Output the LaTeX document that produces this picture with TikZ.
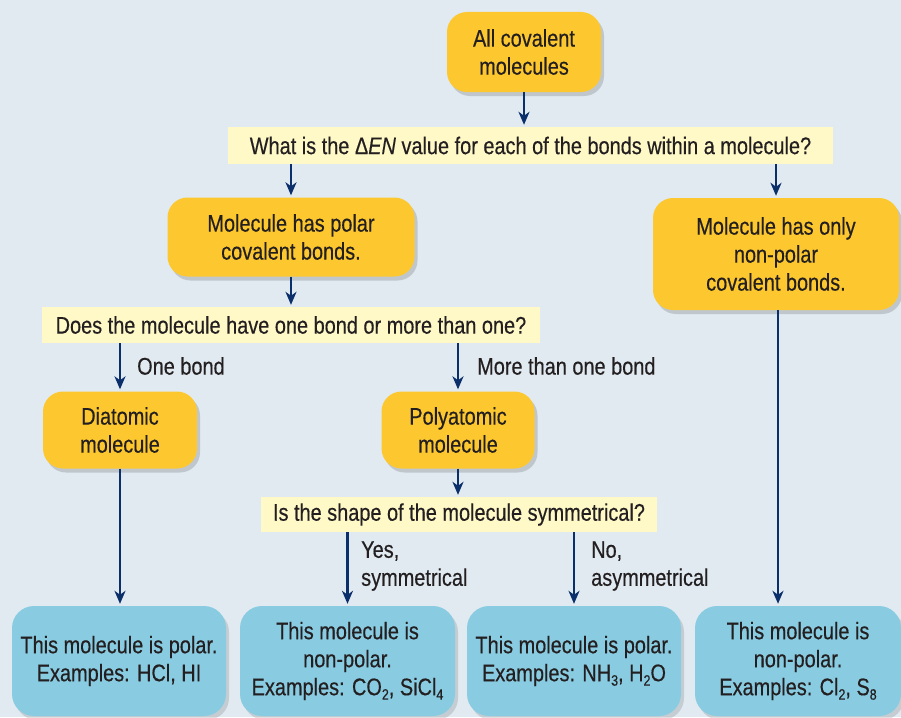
\documentclass[tikz,border=0pt]{standalone}
\usepackage{fontspec}
\setmainfont{Liberation Sans}[FakeStretch=0.83,FakeBold=0.4]
\usetikzlibrary{arrows.meta,shadows}
\definecolor{bgcol}{RGB}{225,234,241}
\definecolor{orangecol}{RGB}{253,200,47}
\definecolor{qbarcol}{RGB}{255,249,200}
\definecolor{bluecol}{RGB}{137,204,226}
\definecolor{navy}{RGB}{10,47,107}
\definecolor{txtcol}{RGB}{35,31,32}
\newcommand{\lowsub}[1]{\raisebox{-0.35ex}{\fontsize{15}{15}\selectfont #1}}
\begin{document}
\begin{tikzpicture}[x=1pt,y=-1pt,
  font=\fontsize{24}{28}\selectfont, text=txtcol,
  obox/.style={fill=orangecol, rounded corners=20pt, align=center, inner sep=0pt,
    drop shadow={shadow xshift=3pt, shadow yshift=-4pt, fill=black, opacity=0.15}},
  bbox/.style={fill=bluecol, rounded corners=22pt, align=center, inner sep=0pt,
    drop shadow={shadow xshift=3pt, shadow yshift=-4pt, fill=black, opacity=0.12}},
  qbox/.style={fill=qbarcol, inner sep=0pt},
  arr/.style={draw=navy, line width=2.2pt, -{Stealth[length=13pt,width=11pt,inset=4pt]}, shorten >=2pt},
  lbl/.style={anchor=west, align=left, inner sep=0pt}]
\fill[bgcol] (0,0) rectangle (901,717);
\useasboundingbox (0,0) rectangle (901,717);
\begin{scope}
\clip (0,0) rectangle (901,717);
% orange boxes
\node[obox, minimum width=154pt, minimum height=80pt] (all) at (524,52) {All covalent\\molecules};
\node[obox, minimum width=247pt, minimum height=79pt] (polar) at (291,237) {Molecule has polar\\covalent bonds.};
\node[obox, minimum width=246pt, minimum height=112pt] (nonpolar) at (776,254) {Molecule has only\\non-polar\\covalent bonds.};
\node[obox, minimum width=154pt, minimum height=77pt] (dia) at (120,430) {Diatomic\\molecule};
\node[obox, minimum width=153pt, minimum height=77pt] (poly) at (458,430) {Polyatomic\\molecule};
% question bars
\node[qbox, minimum width=605pt, minimum height=37pt] (q1) at (530.5,145.5) {What is the Δ\textit{EN} value for each of the bonds within a molecule?};
\node[qbox, minimum width=498pt, minimum height=36pt] (q2) at (291,325) {Does the molecule have one bond or more than one?};
\node[qbox, minimum width=396pt, minimum height=35pt] (q3) at (459,514.5) {Is the shape of the molecule symmetrical?};
% blue boxes
\node[bbox, minimum width=214pt, minimum height=110pt] (b1) at (119,661) {This molecule is polar.\\Examples: HCl, HI};
\node[bbox, minimum width=215pt, minimum height=110pt] (b2) at (347.5,661) {This molecule is\\non-polar.\\Examples: CO\lowsub{2}, SiCl\lowsub{4}};
\node[bbox, minimum width=214pt, minimum height=110pt] (b3) at (574,661) {This molecule is polar.\\Examples: NH\lowsub{3}, H\lowsub{2}O};
\node[bbox, minimum width=206pt, minimum height=110pt] (b4) at (798,661) {This molecule is\\non-polar.\\Examples: Cl\lowsub{2}, S\lowsub{8}};
% arrows
\draw[arr] (all.south) -- (all.south |- q1.north);
\draw[arr] (polar.north |- q1.south) -- (polar.north);
\draw[arr] (nonpolar.north |- q1.south) -- (nonpolar.north);
\draw[arr] (polar.south) -- (q2.north);
\draw[arr] (dia.north |- q2.south) -- (dia.north);
\draw[arr] (poly.north |- q2.south) -- (poly.north);
\draw[arr] (poly.south) -- (poly.south |- q3.north);
\draw[arr] (b2.north |- q3.south) -- (b2.north);
\draw[arr] (b3.north |- q3.south) -- (b3.north);
\draw[arr] (dia.south) -- (dia.south |- b1.north);
\coordinate (npout) at ([xshift=2pt]nonpolar.south);
\draw[arr] (npout) -- (npout |- b4.north);
% labels
\node[lbl] (l1) at (137,366) {One bond};
\node[lbl] (l2) at (477,366) {More than one bond};
\node[lbl] (l3) at (361,566) {Yes,\\symmetrical};
\node[lbl] (l4) at (591,566) {No,\\asymmetrical};
\end{scope}
\end{tikzpicture}
\end{document}
